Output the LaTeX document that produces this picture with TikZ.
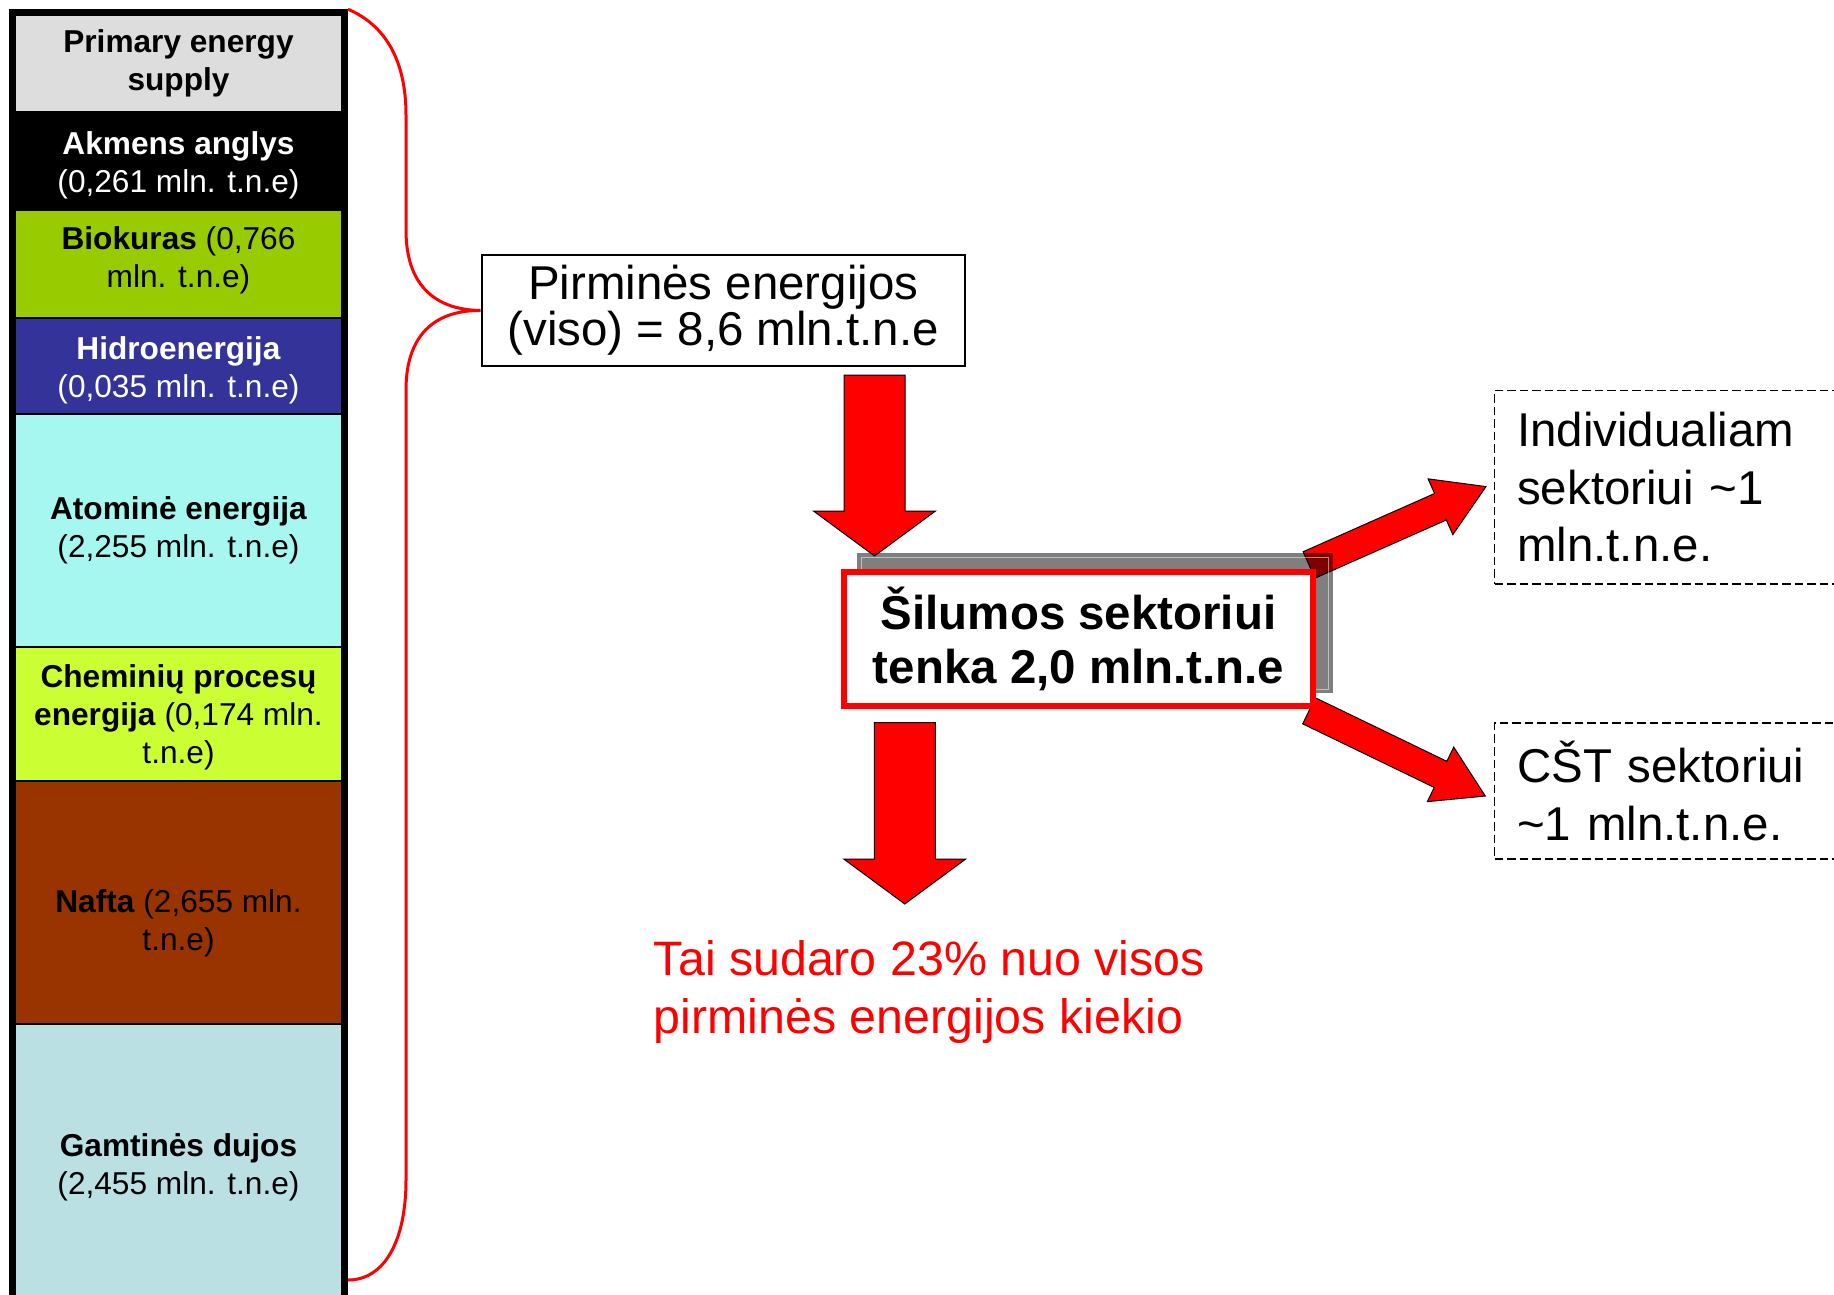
\documentclass[tikz,border=0pt]{standalone}
\usepackage{fontspec}
\setmainfont{Liberation Sans}
\usetikzlibrary{calc}

\definecolor{cellgray}{RGB}{221,221,221}
\definecolor{biogreen}{RGB}{153,204,0}
\definecolor{hydroblue}{RGB}{51,51,153}
\definecolor{atomcyan}{RGB}{166,247,240}
\definecolor{chemyellow}{RGB}{204,255,51}
\definecolor{oilbrown}{RGB}{153,51,0}
\definecolor{gasblue}{RGB}{186,224,227}

\pgfdeclarelayer{back}
\pgfsetlayers{back,main}

\tikzset{
  pics/fatarrow/.style n args={4}{code={
    \filldraw[fill=red,draw=black,line width=0.2mm]
      (0,-#2) -- ({#1-#4},-#2) -- ({#1-#4},-#3) -- (#1,0)
      -- ({#1-#4},#3) -- ({#1-#4},#2) -- (0,#2) -- cycle;
  }}
}

\begin{document}
\begin{tikzpicture}[x=0.2mm,y=-0.2mm,
    celltext/.style={align=center,inner sep=0pt,font=\fontsize{18}{21.6}\selectfont},
    bigtext/.style={align=center,inner sep=0pt,font=\fontsize{27}{26}\selectfont},
    dashbox/.style={draw,line width=0.26mm,dash pattern=on 1.7mm off 0.8mm,anchor=west,
      align=left,text width=80mm,inner xsep=4.5mm,inner ysep=0pt,
      font=\fontsize{27}{32.8}\selectfont}]
  \useasboundingbox (0,0) rectangle (1834,1295);
  \clip (0,0) rectangle (1834,1295);

  % supply column
  \foreach \ya/\yb/\cellcol in {15/112/cellgray,112/210/black,210/318/biogreen,318/414/hydroblue,
      414/647/atomcyan,647/781/chemyellow,781/1024/oilbrown,1024/1320/gasblue}
    \filldraw[fill=\cellcol,draw=black,line width=0.4mm] (15,\ya) rectangle (342,\yb);
  \node[draw,line width=1.1mm,minimum width=66.6mm,minimum height=261.6mm,inner sep=0pt] (col) at (178.75,666) {};

  \node[celltext] (pes) at (178.5,63.5) {\textbf{Primary energy}\\\textbf{supply}};
  \node[celltext,white] (coal) at (178.5,165) {\textbf{Akmens anglys}\\(0,261 mln. t.n.e)};
  \node[celltext] (bio) at (178.5,260) {\textbf{Biokuras} (0,766\\mln. t.n.e)};
  \node[celltext,white] (hydro) at (178.5,370) {\textbf{Hidroenergija}\\(0,035 mln. t.n.e)};
  \node[celltext] (atom) at (178.5,530) {\textbf{Atominė energija}\\(2,255 mln. t.n.e)};
  \node[celltext] (chem) at (178.5,717) {\textbf{Cheminių procesų}\\\textbf{energija} (0,174 mln.\\t.n.e)};
  \node[celltext] (oil) at (178.5,923) {\textbf{Nafta} (2,655 mln.\\t.n.e)};
  \node[celltext] (gas) at (178.5,1167) {\textbf{Gamtinės dujos}\\(2,455 mln. t.n.e)};

  % totals and heat sector
  \node[bigtext,draw,line width=0.4mm,fill=white,minimum width=96.6mm,minimum height=22.2mm] (tot) at (723.2,310.5)
    {Pirminės energijos\\(viso) = 8,6 mln.t.n.e};
  \node[bigtext,draw=red,line width=1.2mm,fill=white,minimum width=93.7mm,minimum height=26.8mm,
    font=\fontsize{27}{30.6}\selectfont\bfseries] (heat) at (1078.6,639)
    {Šilumos sektoriui\\tenka 2,0 mln.t.n.e};

  \node[dashbox,minimum height=38.7mm] (ind) at (1494,487.2)
    {Individualiam\\sektoriui \textasciitilde1\\mln.t.n.e.};
  \node[dashbox,minimum height=27.2mm] (dh) at (1494,791)
    {CŠT sektoriui\\\textasciitilde1 mln.t.n.e.};

  \node[anchor=west,align=left,inner sep=0pt,red,font=\fontsize{27.5}{33.2}\selectfont] (share) at (653.6,991.9)
    {Tai sudaro 23\% nuo visos\\pirminės energijos kiekio};

  % brace
  \coordinate (bb) at (348,1280);
  \draw[red,line width=0.6mm] (col.north east) .. controls (385,25) and (406,60) .. (406,115)
    -- (406,230) .. controls (406,290) and (440,310) .. (tot.west)
    .. controls (440,310) and (406,330) .. (406,390)
    -- (406,1180) .. controls (406,1240) and (385,1280) .. (bb);

  \begin{pgfonlayer}{back}
    \pic[rotate=-90] at (874.5,375) {fatarrow={181}{30.5}{61}{45}};
    \pic[rotate=-90] at (904.75,722.7) {fatarrow={181.3}{30.5}{61}{45}};
    \pic[rotate=23.9] at (1309,565) {fatarrow={193.6}{14.5}{30.5}{49.8}};
    \pic[rotate=-25.8] at (1309,710.8) {fatarrow={195.8}{14.5}{30.3}{49.7}};
    % shadow of the heat box
    \fill[black,fill opacity=.5] ($(heat.north west)+(16,-16)$) rectangle ($(heat.south east)+(17,-16)$);
    \draw[white,opacity=.5,line width=0.2mm] ($(heat.north west)+(20,-12)$) rectangle ($(heat.south east)+(13,-20)$);
  \end{pgfonlayer}
\end{tikzpicture}
\end{document}
